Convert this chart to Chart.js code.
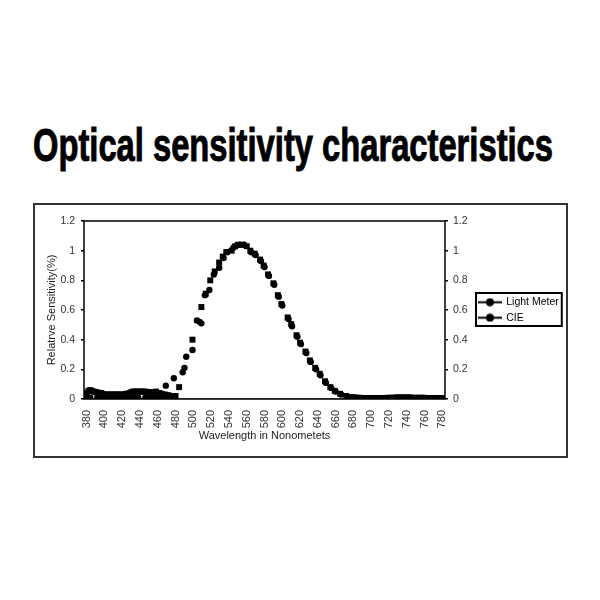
<!DOCTYPE html>
<html><head><meta charset="utf-8">
<script src="https://cdn.jsdelivr.net/npm/chart.js@4.4.1/dist/chart.umd.min.js"></script>
<style>
html,body{margin:0;padding:0;background:#fff;width:600px;height:600px;overflow:hidden;}
#title{position:absolute;left:33px;top:120px;font-family:"Liberation Sans Narrow","Liberation Sans",Arial,sans-serif;font-weight:bold;font-size:47px;line-height:50px;white-space:nowrap;color:#000;transform-origin:0 0;-webkit-text-stroke:1px #000;}
#box{position:absolute;left:33px;top:203px;width:531px;height:251px;border:2px solid #333;}
#wrap{position:absolute;left:35px;top:205px;width:531px;height:251px;}
</style></head><body>
<div id="title">Optical sensitivity characteristics</div>
<div id="box"></div>
<div id="wrap"><canvas id="c" width="531" height="251"></canvas></div>
<script>
// ---- data ----
const xTickValues = [380,400,420,440,460,480,500,520,540,560,580,600,620,640,660,680,700,720,740,760,780];

// Light Meter (square markers)
const lightMeterNm = [380,382,384,386,388,390,392,394,396,398,400,402,404,406,408,410,412,414,416,418,420,422,424,426,428,430,432,434,436,438,440,442,444,446,448,450,452,454,456,458,460,462,464,466,468,470,472,474,476,478,480,
  484,499,509,514,519,524,529,533,537,543,547,550,555,560,564,569,575,579,584,590,595,599,606,610,616,620,626,631,637,642,648,654,659,665,672,678,
  680,682,684,686,688,690,692,694,696,698,700,702,704,706,708,710,712,714,716,718,720,722,724,726,728,730,732,734,736,738,740,742,744,746,748,750,752,754,756,758,760,762,764,766,768,770,772,774,776,778,780];
const lightMeterVal = [0.04,0.055,0.06,0.055,0.05,0.045,0.045,0.04,0.04,0.035,0.03,0.03,0.03,0.03,0.03,0.03,0.03,0.03,0.03,0.03,0.03,0.03,0.035,0.035,0.04,0.045,0.05,0.05,0.05,0.05,0.05,0.05,0.05,0.05,0.045,0.045,0.045,0.04,0.045,0.05,0.04,0.04,0.035,0.03,0.03,0.025,0.025,0.02,0.02,0.02,0.02,
  0.08,0.40,0.62,0.71,0.80,0.86,0.92,0.96,0.99,1.00,1.03,1.04,1.04,1.03,1.00,0.98,0.94,0.90,0.84,0.78,0.70,0.64,0.55,0.505,0.43,0.38,0.32,0.26,0.21,0.17,0.12,0.08,0.055,0.035,0.02,0.012,
  0.01,0.01,0.008,0.008,0.008,0.006,0.006,0.006,0.006,0.006,0.006,0.006,0.006,0.006,0.006,0.006,0.006,0.006,0.006,0.008,0.008,0.008,0.008,0.008,0.01,0.01,0.01,0.01,0.01,0.01,0.01,0.01,0.01,0.008,0.008,0.008,0.008,0.008,0.008,0.008,0.008,0.006,0.006,0.006,0.006,0.006,0.006,0.006,0.006,0.006,0.006];

// CIE (round markers)
const cieNm = [380,382,384,392,394,396,398,400,402,404,406,408,410,412,414,416,418,420,422,424,426,428,430,432,434,438,446,448,452,454,460,462,464,466,
  469,478,488,490,492,499,504,507,509,513,518,523,529,534,538,545,552,557,565,570,576,580,585,591,596,600,607,611,617,621,627,632,638,643,649,655,660,666,673,
  681,685,689,693,697,701,705,709,713,717,721,725,729,733,737,741,745,749,753,757,761,765,769,773,777];
const cieVal = [0.008,0.008,0.008,0.008,0.008,0.008,0.008,0.008,0.008,0.008,0.008,0.008,0.008,0.008,0.008,0.008,0.008,0.008,0.008,0.008,0.008,0.008,0.008,0.008,0.008,0.008,0.008,0.008,0.008,0.008,0.008,0.008,0.008,0.008,
  0.09,0.14,0.18,0.21,0.285,0.33,0.53,0.52,0.51,0.70,0.735,0.84,0.885,0.95,0.99,1.02,1.04,1.04,0.99,0.97,0.93,0.89,0.83,0.77,0.69,0.63,0.54,0.49,0.42,0.37,0.31,0.25,0.20,0.16,0.11,0.075,0.05,0.03,0.018,
  0.002,0.002,0.002,0.002,0.002,0.002,0.002,0.002,0.002,0.002,0.002,0.002,0.002,0.002,0.002,0.002,0.002,0.002,0.002,0.002,0.002,0.002,0.002,0.002,0.002];

// zero readings along the baseline (small dots)
const baselineNm = [];
for (let w = 380; w <= 780; w += 3) baselineNm.push(w);
const baselineVal = baselineNm.map(() => 0);

const seriesNames = ['Light Meter', 'CIE'];
const yTickMin = 0, yTickMax = 1.2, yTickStep = 0.2;

// ---- chart ----
Chart.defaults.font.family = '"Liberation Sans", Arial, sans-serif';
Chart.defaults.color = '#222';

function toXY(xs, ys){ return xs.map((x,i)=>({x:x, y:ys[i]})); }
function fmtY(v){ return String(Math.round(v*10)/10); }

function legendMarker(){
  const c=document.createElement('canvas'); c.width=24; c.height=9;
  const g=c.getContext('2d');
  g.strokeStyle='#000'; g.lineWidth=2;
  g.beginPath(); g.moveTo(0,4.5); g.lineTo(24,4.5); g.stroke();
  g.fillStyle='#000'; g.beginPath(); g.arc(12,4.5,4,0,Math.PI*2); g.fill();
  return c;
}
const marker = legendMarker();

const framePlugin = {
  id:'frame',
  beforeDatasetsDraw(chart){
    const {ctx, chartArea:a} = chart;
    ctx.save(); ctx.strokeStyle='#000'; ctx.lineWidth=1.5;
    ctx.strokeRect(a.left, a.top, a.right-a.left, a.bottom-a.top);
    ctx.restore();
  },
  afterDraw(chart){
    const hb = chart.legend && chart.legend.legendHitBoxes;
    if(!hb || !hb.length) return;
    const ctx = chart.ctx;
    const l=Math.min(...hb.map(h=>h.left)), t=Math.min(...hb.map(h=>h.top));
    const r=Math.max(...hb.map(h=>h.left+h.width)), b=Math.max(...hb.map(h=>h.top+h.height));
    ctx.save(); ctx.strokeStyle='#000'; ctx.lineWidth=2;
    ctx.strokeRect(l-3, t-4, r-l+6, b-t+7);
    ctx.restore();
  }
};

const tickGrid = {display:true, drawOnChartArea:false, drawTicks:true, tickLength:3, color:'#000', lineWidth:1.5};

new Chart(document.getElementById('c'), {
  type:'scatter',
  data:{datasets:[
    {label:seriesNames[0], data:toXY(lightMeterNm, lightMeterVal), pointStyle:'rect', pointRadius:4.2, backgroundColor:'#000', borderColor:'#000', borderWidth:0, showLine:false},
    {label:seriesNames[1], data:toXY(cieNm, cieVal), pointStyle:'circle', pointRadius:3.2, backgroundColor:'#000', borderColor:'#000', borderWidth:0, showLine:false},
    {label:'baseline', data:toXY(baselineNm, baselineVal), pointStyle:'rect', pointRadius:1.2, backgroundColor:'#000', borderColor:'#000', borderWidth:0, showLine:false}
  ]},
  options:{
    animation:false, responsive:false, maintainAspectRatio:false,
    layout:{padding:{left:6, top:16, right:0, bottom:9}},
    scales:{
      x:{type:'linear', min:377, max:783,
        afterBuildTicks(s){ s.ticks = xTickValues.map(v=>({value:v})); },
        afterFit(s){ s.height = 48; },
        ticks:{minRotation:90, maxRotation:90, autoSkip:false, padding:3, font:{size:11}, color:'#333'},
        grid:{display:false}, border:{display:false},
        title:{display:true, text:'Wavelength in Nonometets', font:{size:11}, color:'#222', padding:{top:2,bottom:4}}
      },
      y:{position:'left', min:yTickMin, max:yTickMax,
        afterFit(s){ s.width = 43; },
        ticks:{stepSize:yTickStep, padding:6, font:{size:10.5}, color:'#333', callback:fmtY},
        grid:tickGrid, border:{display:false},
        title:{display:true, text:'Relatrve Sensitivity(%)', font:{size:11}, color:'#222', padding:{top:4,bottom:2}}
      },
      y2:{position:'right', min:yTickMin, max:yTickMax,
        afterFit(s){ s.width = 29; },
        ticks:{stepSize:yTickStep, padding:5, font:{size:10.5}, color:'#333', callback:fmtY},
        grid:tickGrid, border:{display:false}
      }
    },
    plugins:{
      tooltip:{enabled:false},
      legend:{display:true, position:'right', align:'center', fullSize:false, maxWidth:92,
        labels:{usePointStyle:true, pointStyleWidth:22, padding:5, font:{size:10.5}, color:'#000',
          generateLabels(chart){
            return seriesNames.map((n,i)=>({text:n, pointStyle:marker, fillStyle:'#000', strokeStyle:'#000', lineWidth:0, hidden:false, datasetIndex:i, fontColor:'#000'}));
          }
        }
      }
    }
  },
  plugins:[framePlugin]
});

// fit the title to the width of the reference heading
const t = document.getElementById('title');
const w = t.getBoundingClientRect().width;
t.style.transform = 'scaleX(' + (520 / w) + ')';
</script>
</body></html>
